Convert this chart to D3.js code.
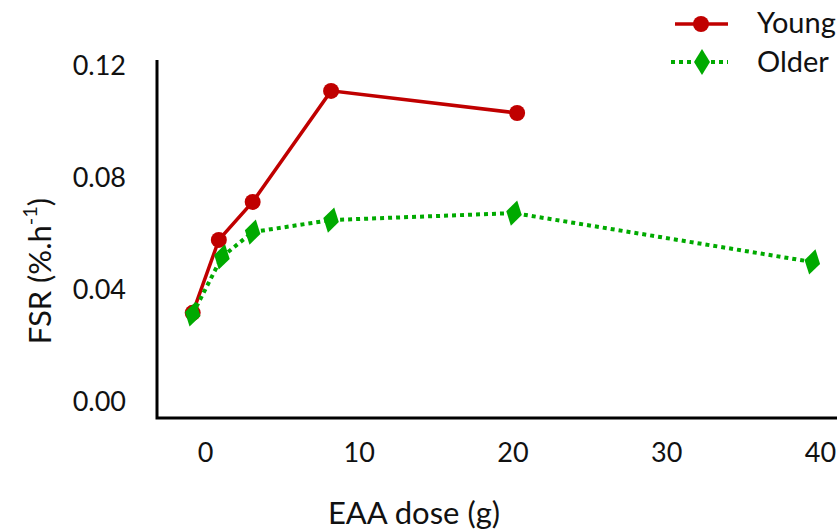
<!DOCTYPE html>
<html>
<head>
<meta charset="utf-8">
<script src="https://cdn.jsdelivr.net/npm/d3@7"></script>
<style>
  body { margin: 0; background: #fff; }
  text { font-family: Lato, "Open Sans", sans-serif; fill: #111; }
</style>
</head>
<body>
<div id="chart"></div>
<script>
// values
var series = ["Young", "Older"];
var youngDose = [-0.8, 0.9, 3.1, 8.2, 20.3];
var youngFSR = [0.0317, 0.0578, 0.0714, 0.1111, 0.1032];
var olderDose = [-0.8, 1.1, 3.1, 8.2, 20.1, 39.5];
var olderFSR = [0.0313, 0.0517, 0.0606, 0.0649, 0.0674, 0.0499];
var xTicks = [0, 10, 20, 30, 40];
var yTicks = [0, 0.04, 0.08, 0.12];

var width = 837,
height = 530;

var red = "#c00000",
green = "#00aa00";

var svg = d3.select("#chart")
.append("svg")
.attr("width", width)
.attr("height", height);

// axis line goes a bit past the tick range on both scales
var xScale = d3.scaleLinear()
.domain([0, 40])
.range([205, 820]);

var yScale = d3.scaleLinear()
.domain([0, 0.12])
.range([401.5, 66]);

var xLeft = 157,
yBottom = 418,
yTop = 60;

// axes (no tick marks, only labels)
var xAxis = d3.axisBottom(xScale)
.tickValues(xTicks)
.tickSize(0)
.tickPadding(25)
.tickFormat(d3.format("d"));

var yAxis = d3.axisLeft(yScale)
.tickValues(yTicks)
.tickSize(0)
.tickPadding(31)
.tickFormat(d3.format(".2f"));

var gx = svg.append("g")
.attr("transform", "translate(0," + yBottom + ")")
.call(xAxis);
gx.select(".domain").remove();
gx.selectAll("text")
.style("font-size", "27px")
.attr("fill", "#111");

var gy = svg.append("g")
.attr("transform", "translate(" + xLeft + ",0)")
.call(yAxis);
gy.select(".domain").remove();
gy.selectAll("text")
.style("font-size", "27px")
.attr("fill", "#111");

// the L shaped frame
svg.append("path")
.attr("d", "M" + xLeft + "," + yTop + "V" + yBottom + "H" + width)
.attr("fill", "none")
.attr("stroke", "#000")
.attr("stroke-width", 3);

// axis titles
svg.append("text")
.attr("x", 414)
.attr("y", 524)
.attr("text-anchor", "middle")
.style("font-size", "31px")
.text("EAA dose (g)");

var yTitle = svg.append("text")
.attr("transform", "translate(51,271) rotate(-90)")
.attr("text-anchor", "middle")
.style("font-size", "31px");
yTitle.append("tspan").text("FSR (%.h");
yTitle.append("tspan").attr("dy", -14).style("font-size", "20px").text("-1");
yTitle.append("tspan").attr("dy", 14).text(")");

var line = d3.line()
.x(function(d) { return xScale(d[0]); })
.y(function(d) { return yScale(d[1]); });

var young = d3.zip(youngDose, youngFSR);
var older = d3.zip(olderDose, olderFSR);

var diamond = "M0,-13L8,0L0,13L-8,0Z";

// Young series
svg.append("path")
.attr("d", line(young))
.attr("fill", "none")
.attr("stroke", red)
.attr("stroke-width", 3.5);

svg.selectAll(".young-pt")
.data(young)
.enter()
.append("circle")
.attr("class", "young-pt")
.attr("cx", function(d) { return xScale(d[0]); })
.attr("cy", function(d) { return yScale(d[1]); })
.attr("r", 8)
.attr("fill", red);

// Older series
svg.append("path")
.attr("d", line(older))
.attr("fill", "none")
.attr("stroke", green)
.attr("stroke-width", 4)
.attr("stroke-dasharray", "4,4");

svg.selectAll(".older-pt")
.data(older)
.enter()
.append("path")
.attr("class", "older-pt")
.attr("d", diamond)
.attr("transform", function(d) {
	return "translate(" + xScale(d[0]) + "," + yScale(d[1]) + ") rotate(14)";
})
.attr("fill", green);

// legend
var legend = svg.append("g");

legend.append("line")
.attr("x1", 675).attr("x2", 728)
.attr("y1", 24).attr("y2", 24)
.attr("stroke", red)
.attr("stroke-width", 3.5);
legend.append("circle")
.attr("cx", 701).attr("cy", 24).attr("r", 8)
.attr("fill", red);

legend.append("line")
.attr("x1", 671).attr("x2", 728)
.attr("y1", 62).attr("y2", 62)
.attr("stroke", green)
.attr("stroke-width", 4)
.attr("stroke-dasharray", "4,4");
legend.append("path")
.attr("d", diamond)
.attr("transform", "translate(702,62)")
.attr("fill", green);

legend.selectAll(".leg-label")
.data(series)
.enter()
.append("text")
.attr("class", "leg-label")
.attr("x", 757)
.attr("y", function(d, i) { return 33 + i * 39; })
.style("font-size", "29px")
.text(function(d) { return d; });
</script>
</body>
</html>
